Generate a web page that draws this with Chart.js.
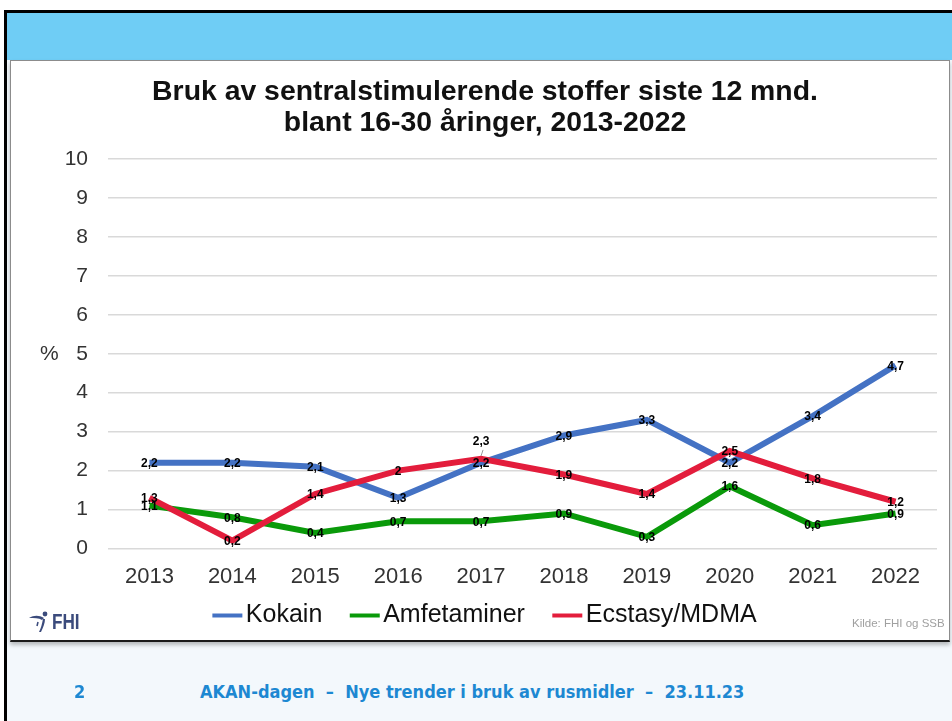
<!DOCTYPE html>
<html>
<head>
<meta charset="utf-8">
<script src="https://cdn.jsdelivr.net/npm/chart.js@4.4.0/dist/chart.umd.min.js"></script>
<style>
  html, body { margin: 0; padding: 0; width: 952px; height: 721px; overflow: hidden; background: #fff; }
  #frame { position: absolute; left: 4px; top: 10px; width: 948px; height: 711px; background: #f3f8fc;
           border-left: 3px solid #000; border-top: 3px solid #000; box-sizing: border-box; }
  #band { position: absolute; left: 7px; top: 13px; width: 945px; height: 47px; background: #6fcdf5; }
  #box { position: absolute; left: 10px; top: 60px; width: 938px; height: 579px; background: #fff;
         border: 1px solid #8c8c8c; border-bottom: 2px solid #1a1a1a; box-shadow: 0 3px 4px rgba(0,0,0,.25); }
  #wrap { position: absolute; left: 0; top: 0; width: 938px; height: 579px; }
  #logo { position: absolute; left: 17px; top: 548px; height: 26px; }
  #logo span { position: absolute; left: 24px; top: 0; font: bold 22px "Liberation Sans", Arial, sans-serif;
               color: #3b4b7c; transform: scaleX(.78); transform-origin: left top; }
  #kilde { position: absolute; left: 841px; top: 556px; font: 11.5px "Liberation Sans", Arial, sans-serif; color: #a0a0a0; }
  .foot { position: absolute; top: 681px; font: bold 18px "DejaVu Sans Condensed", "DejaVu Sans", sans-serif;
          color: #1d88d2; white-space: pre; }
</style>
</head>
<body>
<div id="frame"></div>
<div id="band"></div>
<div id="box">
  <div id="wrap"><canvas id="chart"></canvas></div>
  <div id="logo">
    <svg width="24" height="26" viewBox="0 0 24 26">
      <circle cx="17" cy="5" r="2.4" fill="#3b4b7c"/>
      <path d="M1 9 C6 6 11 6 16 9 L14 11 C11 9 6 9 1 9 Z" fill="#3b4b7c"/>
      <path d="M15 10 C14 15 13 19 11 23 L13 23 C15 19 17 14 17 10 Z" fill="#3b4b7c"/>
      <path d="M10 13 L9 17" stroke="#3b4b7c" stroke-width="1.5"/>
    </svg>
    <span>FHI</span>
  </div>
  <div id="kilde">Kilde: FHI og SSB</div>
</div>
<div class="foot" style="left:74px">2</div>
<div class="foot" style="left:200px">AKAN-dagen  –  Nye trender i bruk av rusmidler  –  23.11.23</div>

<script>
const years = ['2013', '2014', '2015', '2016', '2017', '2018', '2019', '2020', '2021', '2022'];
const kokain = [2.2, 2.2, 2.1, 1.3, 2.2, 2.9, 3.3, 2.2, 3.4, 4.7];
const amfetaminer = [1.1, 0.8, 0.4, 0.7, 0.7, 0.9, 0.3, 1.6, 0.6, 0.9];
const ecstasy = [1.3, 0.2, 1.4, 2.0, 2.3, 1.9, 1.4, 2.5, 1.8, 1.2];
const seriesNames = ['Kokain', 'Amfetaminer', 'Ecstasy/MDMA'];
const seriesColors = ['#4472c4', '#0a9a0a', '#e31d3c'];
const yTicks = [0, 1, 2, 3, 4, 5, 6, 7, 8, 9, 10];

// labels that sit above their point (dataset index, point index)
const raisedLabels = [[2, 4]];

// short line marker for the legend, shifted right so it sits close to its text
function legendMarker(color) {
    const c = document.createElement('canvas');
    c.width = 40; c.height = 6;
    const g = c.getContext('2d');
    g.fillStyle = color;
    g.fillRect(9, 1, 30, 4);
    return c;
}

const valueLabels = {
    id: 'valueLabels',
    afterDatasetsDraw(chart) {
        const ctx = chart.ctx;
        ctx.save();
        ctx.font = 'bold 12px "Liberation Sans", Arial, sans-serif';
        ctx.fillStyle = '#000';
        ctx.textAlign = 'center';
        ctx.textBaseline = 'middle';
        chart.data.datasets.forEach((ds, di) => {
            chart.getDatasetMeta(di).data.forEach((pt, i) => {
                const txt = String(ds.data[i]).replace('.', ',');
                const raised = raisedLabels.some(r => r[0] === di && r[1] === i);
                if (raised) {
                    ctx.strokeStyle = '#999';
                    ctx.lineWidth = 1;
                    ctx.beginPath();
                    ctx.moveTo(pt.x, pt.y - 3);
                    ctx.lineTo(pt.x + 2, pt.y - 9);
                    ctx.stroke();
                    ctx.fillText(txt, pt.x, pt.y - 17);
                } else {
                    ctx.fillText(txt, pt.x, pt.y + 1);
                }
            });
        });
        // % sign beside the y axis
        const y = chart.scales.y;
        ctx.font = '21px "Liberation Sans", Arial, sans-serif';
        ctx.fillStyle = '#333';
        ctx.textAlign = 'left';
        ctx.fillText('%', 29, y.getPixelForValue(5));
        ctx.restore();
    }
};

new Chart(document.getElementById('chart'), {
    type: 'line',
    data: {
        labels: years,
        datasets: [
            { label: seriesNames[0], data: kokain, borderColor: seriesColors[0], backgroundColor: seriesColors[0], order: 3 },
            { label: seriesNames[1], data: amfetaminer, borderColor: seriesColors[1], backgroundColor: seriesColors[1], order: 2 },
            { label: seriesNames[2], data: ecstasy, borderColor: seriesColors[2], backgroundColor: seriesColors[2], order: 1 }
        ]
    },
    options: {
        responsive: true,
        maintainAspectRatio: false,
        animation: false,
        layout: { padding: { left: 22, right: 12, top: 0, bottom: 2 } },
        elements: {
            line: { borderWidth: 6, tension: 0 },
            point: { radius: 0, hoverRadius: 0 }
        },
        plugins: {
            title: {
                display: true,
                text: ['Bruk av sentralstimulerende stoffer siste 12 mnd.', 'blant 16-30 åringer, 2013-2022'],
                color: '#111',
                font: { family: '"Liberation Sans", Arial, sans-serif', size: 28.4, weight: 'bold', lineHeight: 1.09 },
                padding: { top: 16, bottom: 20 }
            },
            legend: {
                position: 'bottom',
                labels: {
                    usePointStyle: true,
                    pointStyleWidth: 20,
                    padding: 14.5,
                    color: '#111',
                    font: { family: '"Liberation Sans", Arial, sans-serif', size: 25 },
                    generateLabels: (chart) => seriesNames.map((name, i) => ({
                        text: i < seriesNames.length - 1 ? name + '  ' : name,
                        pointStyle: legendMarker(seriesColors[i]),
                        fillStyle: seriesColors[i],
                        strokeStyle: seriesColors[i],
                        lineWidth: 0,
                        fontColor: '#111',
                        hidden: false,
                        datasetIndex: i
                    }))
                }
            },
            tooltip: { enabled: false }
        },
        scales: {
            x: {
                offset: true,
                afterFit: (scale) => { scale.height = 40; },
                grid: { display: false, drawTicks: false },
                border: { display: false },
                ticks: {
                    padding: 15,
                    color: '#333',
                    font: { family: '"Liberation Sans", Arial, sans-serif', size: 22 }
                }
            },
            y: {
                min: 0,
                max: 10,
                afterFit: (scale) => { scale.width = 75; },
                afterBuildTicks: (scale) => { scale.ticks = yTicks.map(v => ({ value: v })); },
                grid: { color: '#d9d9d9', lineWidth: 1.5, drawTicks: false },
                border: { display: false },
                ticks: {
                    padding: 20,
                    color: '#333',
                    font: { family: '"Liberation Sans", Arial, sans-serif', size: 21 }
                }
            }
        }
    },
    plugins: [valueLabels]
});
</script>
</body>
</html>
